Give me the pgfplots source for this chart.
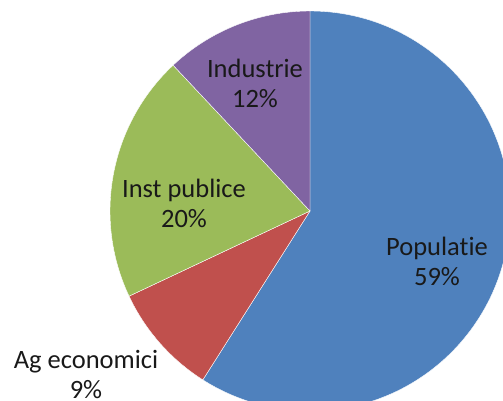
\documentclass[border=0pt]{standalone}
\usepackage{pgfplots}
\usepackage{pgfplotstable}
\pgfplotsset{compat=1.18}
\usepackage{fontspec}
\setmainfont{Carlito}[Ligatures={NoCommon}]
\definecolor{popblue}{HTML}{4F81BD}
\definecolor{agred}{HTML}{C0504D}
\definecolor{instgreen}{HTML}{9BBB59}
\definecolor{indpurple}{HTML}{8064A2}
\pgfplotstableread{
label pct
Populatie 59
Ag 9
Inst 20
Industrie 12
}\piedata
\pgfplotstablegetelem{0}{pct}\of\piedata \let\pA\pgfplotsretval
\pgfplotstablegetelem{1}{pct}\of\piedata \let\pB\pgfplotsretval
\pgfplotstablegetelem{2}{pct}\of\piedata \let\pC\pgfplotsretval
\pgfplotstablegetelem{3}{pct}\of\piedata \let\pD\pgfplotsretval
\pgfmathsetmacro{\aA}{90}
\pgfmathsetmacro{\aB}{\aA-3.6*\pA}
\pgfmathsetmacro{\aC}{\aB-3.6*\pB}
\pgfmathsetmacro{\aD}{\aC-3.6*\pC}
\pgfmathsetmacro{\aE}{\aD-3.6*\pD}
\begin{document}
\begin{tikzpicture}
\begin{axis}[
  at={(0,0)}, anchor=south west,
  scale only axis, width=503pt, height=400pt,
  xmin=0, xmax=503, ymin=0, ymax=400,
  hide axis, clip=true,
]
\fill[popblue, draw=white, line width=0.4pt] (axis cs:310,189) -- ++(\aA:200pt) arc[start angle=\aA, end angle=\aB, radius=200pt] -- cycle;
\fill[agred, draw=white, line width=0.4pt] (axis cs:310,189) -- ++(\aB:200pt) arc[start angle=\aB, end angle=\aC, radius=200pt] -- cycle;
\fill[instgreen, draw=white, line width=0.4pt] (axis cs:310,189) -- ++(\aC:200pt) arc[start angle=\aC, end angle=\aD, radius=200pt] -- cycle;
\fill[indpurple, draw=white, line width=0.4pt] (axis cs:310,189) -- ++(\aD:200pt) arc[start angle=\aD, end angle=\aE, radius=200pt] -- cycle;
\node[align=center, anchor=base, text=black!90, font=\fontsize{26.5}{29.5}\selectfont] at (axis cs:437,115) {Populatie\\\pA\%};
\node[align=center, anchor=base, text=black!90, font=\fontsize{26.5}{29.5}\selectfont] at (axis cs:86,2) {Ag economici\\\pB\%};
\node[align=center, anchor=base, text=black!90, font=\fontsize{26.5}{29.5}\selectfont] at (axis cs:184,173) {Inst publice\\\pC\%};
\node[align=center, anchor=base, text=black!90, font=\fontsize{26.5}{29.5}\selectfont] at (axis cs:255,293) {Industrie\\\pD\%};
\end{axis}
\pgfresetboundingbox
\useasboundingbox (0,0) rectangle (503pt,400pt);
\end{tikzpicture}
\end{document}
